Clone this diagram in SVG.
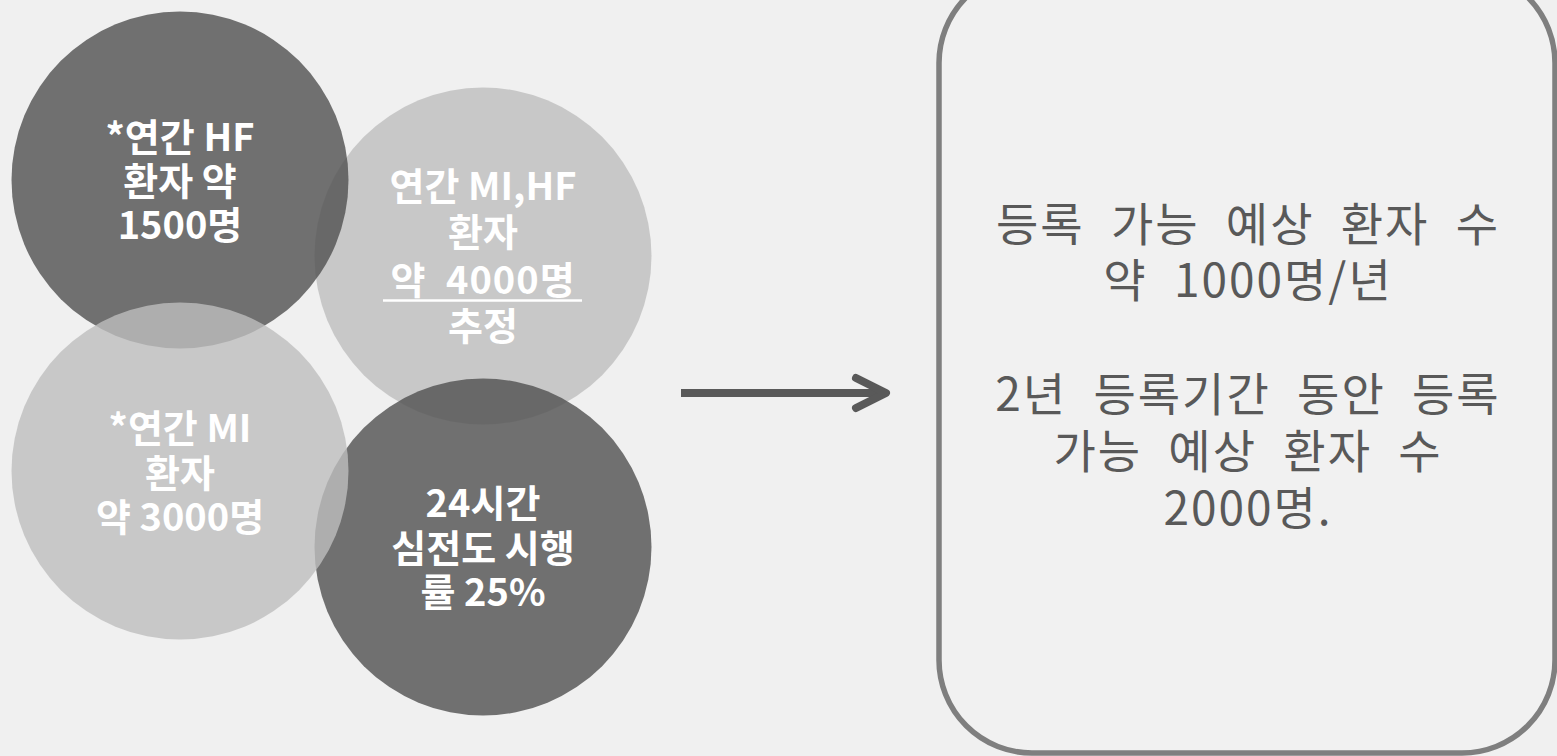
<svg xmlns="http://www.w3.org/2000/svg" width="1557" height="756" viewBox="0 0 1557 756">
<defs>
<style>
.dark{fill:#545454;fill-opacity:0.825}
.light{fill:#bebebe;fill-opacity:0.8}
.ct{font-family:"Noto Sans CJK KR","Noto Sans",sans-serif;font-weight:700;font-size:38px;fill:#ffffff;text-anchor:middle}
.bt{font-family:"Noto Sans CJK KR","Noto Sans",sans-serif;font-weight:400;font-size:46px;fill:#595959;text-anchor:middle;letter-spacing:2px;word-spacing:14px}
.conn{stroke:#595959;stroke-width:8;fill:none}
</style>
</defs>
<rect x="0" y="0" width="1557" height="756" fill="#f0f0f0"/>
<g id="node-mihf">
<circle class="light" cx="483" cy="256" r="168.5"/>
<text class="ct" x="483" y="200">연간 MI,HF</text>
<text class="ct" x="483" y="246">환자</text>
<text class="ct" x="483" y="294" word-spacing="10px" letter-spacing="1px">약 4000명</text>
<line x1="383" y1="300.5" x2="582" y2="300.5" stroke="#ffffff" stroke-width="2.5"/>
<text class="ct" x="483" y="340">추정</text>
</g>
<g id="node-ecg">
<circle class="dark" cx="483" cy="547" r="168.5"/>
<text class="ct" x="483" y="517">24시간</text>
<text class="ct" x="483" y="562">심전도 시행</text>
<text class="ct" x="483" y="606">률 25%</text>
</g>
<g id="node-hf">
<circle class="dark" cx="180" cy="180" r="168.5"/>
<text class="ct" x="180" y="151">*연간 HF</text>
<text class="ct" x="180" y="195">환자 약</text>
<text class="ct" x="180" y="239">1500명</text>
</g>
<g id="node-mi">
<circle class="light" cx="180" cy="471" r="168.5"/>
<text class="ct" x="180" y="442">*연간 MI</text>
<text class="ct" x="180" y="487">환자</text>
<text class="ct" x="180" y="531">약 3000명</text>
</g>
<g id="connectors">
<line class="conn" x1="681" y1="393" x2="882" y2="393"/>
<polyline class="conn" points="856,378 886,393 856,408" stroke-linecap="round" stroke-linejoin="round"/>
</g>
<g id="node-result">
<rect x="939" y="-30" width="616" height="783" rx="93" ry="93" fill="#f1f1f1" stroke="#7f7f7f" stroke-width="5.5"/>
<text class="bt" x="1248" y="241">등록 가능 예상 환자 수</text>
<text class="bt" x="1248" y="297">약 1000명/년</text>
<text class="bt" x="1248" y="411">2년 등록기간 동안 등록</text>
<text class="bt" x="1248" y="468">가능 예상 환자 수</text>
<text class="bt" x="1248" y="525">2000명.</text>
</g>
</svg>
